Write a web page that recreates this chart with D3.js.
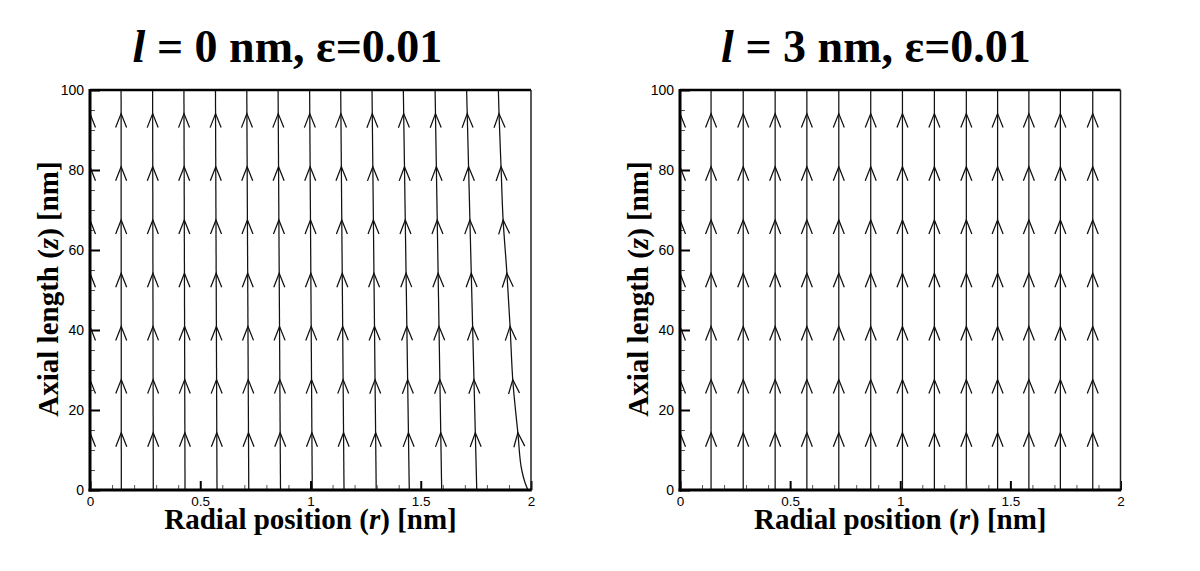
<!DOCTYPE html>
<html>
<head>
<meta charset="utf-8">
<script src="https://cdn.jsdelivr.net/npm/d3@7"></script>
<style>
  html, body { margin: 0; padding: 0; background: #fff; }
  svg { display: block; }
</style>
</head>
<body>
<svg id="chart" width="1200" height="571"></svg>
<script>
// ---------------- DATA ----------------
const panelTitles = [["l", " = 0 nm, ε=0.01"], ["l", " = 3 nm, ε=0.01"]];
const xTicksMajor = [0, 0.5, 1, 1.5, 2];
const xTickLabels = ["0", "0.5", "1", "1.5", "2"];
const yTicksMajor = [0, 20, 40, 60, 80, 100];
const yTickLabels = ["0", "20", "40", "60", "80", "100"];
const xTicksMinor = [0.1, 0.2, 0.3, 0.4, 0.6, 0.7, 0.8, 0.9, 1.1, 1.2, 1.3, 1.4, 1.6, 1.7, 1.8, 1.9];
const yTicksMinor = [5, 10, 15, 25, 30, 35, 45, 50, 55, 65, 70, 75, 85, 90, 95];

// Streamlines, left panel (l = 0 nm): straight lines, r at z=0 and z=100
const zStraight = [0, 100];
const leftRBottom = [0, 0.142, 0.287, 0.431, 0.576, 0.720, 0.864, 1.008, 1.152, 1.298, 1.448, 1.595, 1.754];
const leftRTop    = [0, 0.141, 0.284, 0.426, 0.569, 0.711, 0.853, 0.996, 1.137, 1.279, 1.421, 1.565, 1.708];
// outermost curved streamline of left panel
const leftCurveZ = [0, 2, 5, 14, 27, 41, 54, 68, 81, 94, 100];
const leftCurveR = [1.986, 1.972, 1.958, 1.941, 1.918, 1.905, 1.891, 1.873, 1.864, 1.855, 1.852];

// Streamlines, right panel (l = 3 nm): vertical lines
const rightR = [0, 0.141, 0.287, 0.432, 0.576, 0.721, 0.866, 1.010, 1.155, 1.300, 1.442, 1.584, 1.727, 1.874];

// z positions of arrow heads (tips)
const arrowZ = [14.3, 27.6, 40.9, 54.2, 67.5, 80.8, 94.1];

// ---------------- DRAWING ----------------
const svg = d3.select("#chart");
const panels = [
  { x0: 90, x1: 531, title: panelTitles[0], titleX: 287.5,
    lines: leftRBottom.map((rb, i) => ({ z: zStraight, r: [rb, leftRTop[i]] }))
            .concat([{ z: leftCurveZ, r: leftCurveR }]) },
  { x0: 680, x1: 1120.5, title: panelTitles[1], titleX: 876,
    lines: rightR.map(r => ({ z: zStraight, r: [r, r] })) }
];
const yTop = 90, yBot = 490;
const serif = "Liberation Serif, Times New Roman, serif";
const sans = "Liberation Sans, Arial, sans-serif";

panels.forEach((p, pi) => {
  const x = d3.scaleLinear().domain([0, 2]).range([p.x0, p.x1]);
  const y = d3.scaleLinear().domain([0, 100]).range([yBot, yTop]);
  const g = svg.append("g");

  // clip
  const clipId = "clip" + pi;
  svg.append("clipPath").attr("id", clipId)
    .append("rect").attr("x", p.x0).attr("y", yTop).attr("width", p.x1 - p.x0).attr("height", yBot - yTop);
  const plot = g.append("g").attr("clip-path", `url(#${clipId})`);

  const line = d3.line().x(d => x(d[1])).y(d => y(d[0])).curve(d3.curveMonotoneY);

  p.lines.forEach(L => {
    const pts = L.z.map((z, i) => [z, L.r[i]]);
    plot.append("path").attr("d", line(pts))
      .attr("fill", "none").attr("stroke", "#111").attr("stroke-width", 1.25);
    const rAt = d3.scaleLinear().domain(L.z).range(L.r);
    arrowZ.forEach(z => {
      const tx = x(rAt(z)), ty = y(z);
      const bx = x(rAt(z - 3.5)), by = y(z - 3.5);
      let dx = tx - bx, dy = ty - by;
      const len = Math.hypot(dx, dy); dx /= len; dy /= len;
      const back = 14, half = 5.5;
      const px = -dy, py = dx;
      const a1 = [tx - dx * back + px * half, ty - dy * back + py * half];
      const a2 = [tx - dx * back - px * half, ty - dy * back - py * half];
      plot.append("path")
        .attr("d", `M${a1[0]},${a1[1]}L${tx},${ty}L${a2[0]},${a2[1]}`)
        .attr("fill", "none").attr("stroke", "#111").attr("stroke-width", 1.25);
    });
  });

  // minor ticks
  const xMinor = d3.axisBottom(x).tickValues(xTicksMinor).tickSize(-5).tickFormat("");
  const yMinor = d3.axisLeft(y).tickValues(yTicksMinor).tickSize(-5).tickFormat("");
  g.append("g").attr("transform", `translate(0,${yBot})`).call(xMinor)
    .call(s => s.select(".domain").remove())
    .call(s => s.selectAll("line").attr("stroke", "#555").attr("stroke-width", 1));
  g.append("g").attr("transform", `translate(${p.x0},0)`).call(yMinor)
    .call(s => s.select(".domain").remove())
    .call(s => s.selectAll("line").attr("stroke", "#555").attr("stroke-width", 1));

  // major axes
  const xAxis = d3.axisBottom(x).tickValues(xTicksMajor).tickSize(-9).tickPadding(18)
    .tickFormat((d, i) => xTickLabels[i]);
  const yAxis = d3.axisLeft(y).tickValues(yTicksMajor).tickSize(-10).tickPadding(16)
    .tickFormat((d, i) => yTickLabels[i]);
  g.append("g").attr("transform", `translate(0,${yBot})`).call(xAxis)
    .call(s => s.select(".domain").remove())
    .call(s => s.selectAll("line").attr("stroke", "#000").attr("stroke-width", 2))
    .call(s => s.selectAll("text").attr("font-family", sans)
      .attr("font-size", 13.5).attr("fill", "#000").attr("dy", null).attr("y", 16));
  g.append("g").attr("transform", `translate(${p.x0},0)`).call(yAxis)
    .call(s => s.select(".domain").remove())
    .call(s => s.selectAll("line").attr("stroke", "#000").attr("stroke-width", 2))
    .call(s => s.selectAll("text").attr("font-family", sans)
      .attr("font-size", 14).attr("fill", "#000").attr("x", -6));

  // frame
  g.append("line").attr("x1", p.x0).attr("x2", p.x1).attr("y1", yTop).attr("y2", yTop)
    .attr("stroke", "#000").attr("stroke-width", 2.5);
  g.append("line").attr("x1", p.x1).attr("x2", p.x1).attr("y1", yTop).attr("y2", yBot)
    .attr("stroke", "#222").attr("stroke-width", 1.5);
  g.append("line").attr("x1", p.x0).attr("x2", p.x0).attr("y1", yTop - 1).attr("y2", yBot + 1.5)
    .attr("stroke", "#000").attr("stroke-width", 3);
  g.append("line").attr("x1", p.x0 - 1.5).attr("x2", p.x1 + 0.75).attr("y1", yBot).attr("y2", yBot)
    .attr("stroke", "#000").attr("stroke-width", 3);

  // title
  const t = svg.append("text").attr("x", p.titleX).attr("y", 62).attr("text-anchor", "middle")
    .attr("font-family", serif).attr("font-weight", "bold")
    .attr("font-size", 46).attr("fill", "#000");
  t.append("tspan").attr("font-style", "italic").text(p.title[0]);
  t.append("tspan").text(p.title[1]);

  // x axis title
  const xt = svg.append("text").attr("x", (p.x0 + p.x1) / 2).attr("y", 529).attr("text-anchor", "middle")
    .attr("font-family", serif).attr("font-weight", "bold")
    .attr("font-size", 29).attr("fill", "#000");
  xt.append("tspan").text("Radial position (");
  xt.append("tspan").attr("font-style", "italic").text("r");
  xt.append("tspan").text(") [nm]");

  // y axis title
  const yt = svg.append("text")
    .attr("transform", `translate(${p.x0 - 32},${(yTop + yBot) / 2 - 1}) rotate(-90)`)
    .attr("text-anchor", "middle")
    .attr("font-family", serif).attr("font-weight", "bold")
    .attr("font-size", 29).attr("fill", "#000");
  yt.append("tspan").text("Axial length (");
  yt.append("tspan").attr("font-style", "italic").text("z");
  yt.append("tspan").text(") [nm]");
});
</script>
</body>
</html>
